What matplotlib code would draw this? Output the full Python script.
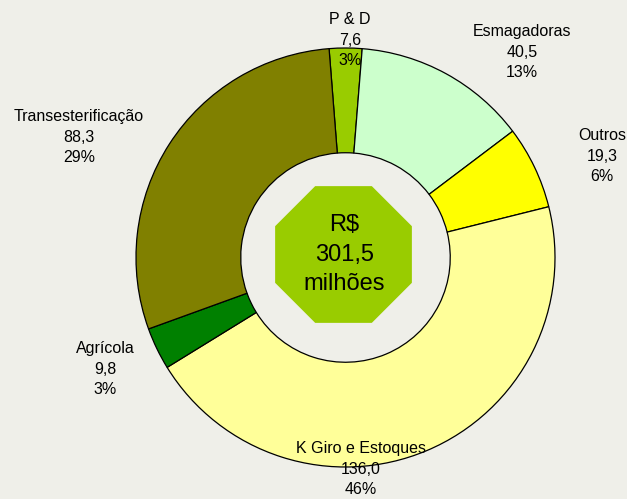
import matplotlib
matplotlib.use("Agg")
import matplotlib.pyplot as plt
from matplotlib.patches import RegularPolygon
import numpy as np

plt.rcParams["font.family"] = ["Liberation Sans", "DejaVu Sans"]

# Data (clockwise from the top)
categories = ["P & D", "Esmagadoras", "Outros", "K Giro e Estoques", "Agrícola", "Transesterificação"]
values = [7.6, 40.5, 19.3, 136.0, 9.8, 88.3]
percents = [3, 13, 6, 46, 3, 29]
colors = ["#99CC00", "#CCFFCC", "#FFFF00", "#FFFF99", "#008000", "#808000"]
total_label = "R$\n301,5\nmilhões"

# label block centres in pixel coordinates (x, y from top)
label_pos = [(350, 40), (522, 52), (602, 156), (361, 469), (105, 369), (79, 137)]

W, H = 627, 499
bg = "#EFEFE9"
fig = plt.figure(figsize=(W / 100, H / 100), dpi=100, facecolor=bg)
ax = fig.add_axes([0, 0, 1, 1])
ax.set_facecolor(bg)

cx, cy, r = 345.5, H - 257.5, 209.5
ax.pie(values, colors=colors, startangle=94.5, counterclock=False,
       center=(cx, cy), radius=r, frame=True,
       wedgeprops=dict(width=r * 0.5, edgecolor="black", linewidth=0.9))
ax.set_xlim(0, W)
ax.set_ylim(0, H)
ax.axis("off")

# octagon in the middle
octo = RegularPolygon((cx - 2, H - 254.5), numVertices=8, radius=74,
                      orientation=np.pi / 8, facecolor="#99CC00", edgecolor="none")
ax.add_patch(octo)
ax.text(cx - 1, H - 254.5, total_label, ha="center", va="center",
        fontsize=17, linespacing=1.42, color="black")

for name, val, pct, (lx, ly) in zip(categories, values, percents, label_pos):
    txt = f"{name}\n{val:.1f}".replace(".", ",") + f"\n{pct}%"
    ax.text(lx, H - ly, txt, ha="center", va="center", fontsize=11.5,
            linespacing=1.45, color="black", clip_on=False)

fig.savefig("out.png", dpi=100, facecolor=bg)
